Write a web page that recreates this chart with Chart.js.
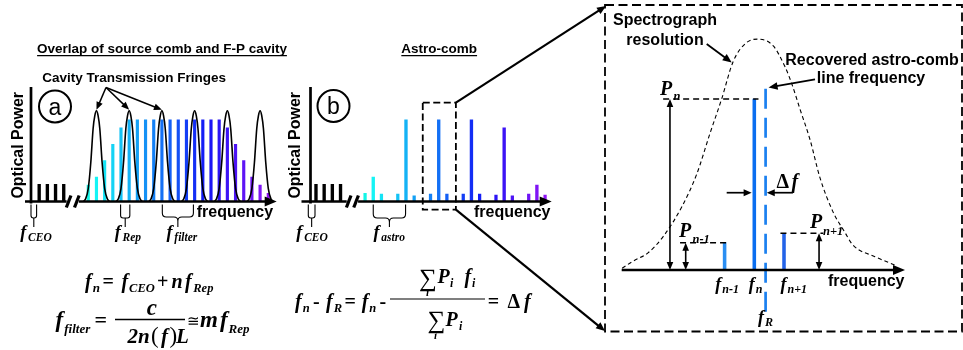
<!DOCTYPE html>
<html><head><meta charset="utf-8"><title>Astro-comb</title>
<script src="https://cdn.jsdelivr.net/npm/chart.js@4.4.1/dist/chart.umd.min.js"></script>
<style>
html,body{margin:0;padding:0;background:#fff;}
#wrap{position:relative;width:963px;height:350px;overflow:hidden;background:#fff}
#wrap canvas{position:absolute;left:0;top:0}
</style></head><body>
<div id="wrap">
<canvas id="chartA" width="963" height="350"></canvas>
<canvas id="chartB" width="963" height="350"></canvas>
<canvas id="chartC" width="963" height="350"></canvas>
</div>
<script>
// ================= DATA =================
// (a) source comb: line index and relative optical power
const combIndex = [0,1,2,3,4,5,6,7,8,9,10,11,12,13,14,15,16,17,18,19,20,21,22];
const combPower = [0.20,0.30,0.50,0.70,0.90,1.00,1.00,1.00,1.00,1.00,1.00,1.00,1.00,1.00,1.00,1.00,1.00,0.90,0.70,0.50,0.30,0.20,0.10];
// low-frequency comb teeth left of the axis break
const offsetIndex = [-6,-5,-4,-3];
const offsetPower = [0.21,0.21,0.21,0.21];
// Fabry-Perot transmission fringes (centre index) and one fringe profile
const fringeCentres = [1,5,9,13,17,21];
const fringeOffsets = [-1.6,-1.34,-1.0,-0.69,-0.41,-0.2,0,0.2,0.41,0.69,1.0,1.34,1.6];
const fringeHeights = [0,0.03,0.16,0.48,0.89,1.05,1.11,1.05,0.89,0.48,0.16,0.03,0];
// (b) astro-comb: transmitted lines and suppressed neighbours
const astroIndex = [1,5,9,13,17,21];
const astroPower = [0.30,1.00,1.00,1.00,0.90,0.20];
const sideIndex = [0,2,4,6,8,10,12,14,16,18,20,22];
const sidePower = [0.10,0.09,0.09,0.07,0.09,0.09,0.09,0.09,0.08,0.07,0.09,0.08];
// (c) zoom: lines f_{n-1}, f_n, f_{n+1} and spectrograph profile
const lineLabels = ['n-1','n','n+1'];
const lineFreq = [-1,0,1];
const linePower = [0.16,1.00,0.215];
const recoveredFreq = 0.38;
const psfFreq  = [-4.45,-4.1,-3.58,-3.07,-2.44,-1.94,-1.49,-1.10,-0.71,-0.26,0.12,0.64,1.03,1.26,1.54,1.88,2.21,2.65,3.05,3.32,4.06,4.79];
const psfPower = [0.01,0.05,0.10,0.195,0.37,0.56,0.80,1.00,1.22,1.33,1.35,1.31,1.19,1.09,0.94,0.76,0.54,0.34,0.22,0.146,0.078,0.025];

// ================= STYLE HELPERS =================
const SANS='"Liberation Sans", Arial, Helvetica, sans-serif';
const SERIF='"Liberation Serif", "Times New Roman", Times, serif';
const bi=p=>`italic bold ${p}px ${SERIF}`;
const bs=p=>`bold ${p}px ${SANS}`;
const br=p=>`bold ${p}px ${SERIF}`;
const rr=p=>`${p}px ${SERIF}`;
const combColor=i=>`hsl(${176+4.4*i},92%,52%)`;

function seg(c,x1,y1,x2,y2,w,col,dash){c.save();c.beginPath();c.lineWidth=w;c.strokeStyle=col||'#000';c.setLineDash(dash||[]);c.moveTo(x1,y1);c.lineTo(x2,y2);c.stroke();c.restore();}
function head(c,x,y,a,len,hw){c.save();c.translate(x,y);c.rotate(a);c.beginPath();c.moveTo(0,0);c.lineTo(-len,-hw);c.lineTo(-len,hw);c.closePath();c.fillStyle='#000';c.fill();c.restore();}
function arrow(c,x1,y1,x2,y2,w,len,hw,both){const a=Math.atan2(y2-y1,x2-x1),dx=Math.cos(a)*len*0.7,dy=Math.sin(a)*len*0.7;seg(c,both?x1+dx:x1,both?y1+dy:y1,x2-dx,y2-dy,w);head(c,x2,y2,a,len,hw);if(both)head(c,x1,y1,a+Math.PI,len,hw);}
function txt(c,s,x,y,font,align){c.save();c.font=font;c.fillStyle='#000';c.textAlign=align||'left';c.textBaseline='alphabetic';c.fillText(s,x,y);c.restore();}
function under(c,s,cx,y,font){c.save();c.font=font;const w=c.measureText(s).width;c.restore();txt(c,s,cx,y,font,'center');seg(c,cx-w/2,y+3.2,cx+w/2,y+3.2,1.3);}
function vtxt(c,s,x,y,font){c.save();c.translate(x,y);c.rotate(-Math.PI/2);c.font=font;c.textAlign='center';c.textBaseline='middle';c.fillStyle='#000';c.fillText(s,0,0);c.restore();}
function hAxis(c,x1,x2,y){seg(c,x1,y,x2-8,y,2.7);head(c,x2,y,0,12,5);}
function breakMark(c,xa,xb,y){c.save();c.fillStyle='#fff';c.fillRect(xa-2,y-3,xb-xa+4,6);c.restore();[xa,xb].forEach(x=>seg(c,x-2.3,y+6,x+2.3,y-6,3.2));}
function circ(c,x,y,r,s){c.save();c.beginPath();c.arc(x,y,r,0,Math.PI*2);c.lineWidth=2;c.strokeStyle='#000';c.stroke();c.restore();txt(c,s,x,y+8,`23px ${SANS}`,'center');}
function uBracket(c,xl,xr,yt,yb,ys){const r=2.5,xm=(xl+xr)/2;c.save();c.beginPath();c.lineWidth=1.1;c.strokeStyle='#000';c.moveTo(xl,yt);c.lineTo(xl,yb-r);c.quadraticCurveTo(xl,yb,xl+r,yb);c.lineTo(xr-r,yb);c.quadraticCurveTo(xr,yb,xr,yb-r);c.lineTo(xr,yt);c.moveTo(xm,yb);c.lineTo(xm,ys);c.stroke();c.restore();}
function brace(c,xl,xr,yt,yb,ys){const r=4,xm=(xl+xr)/2;c.save();c.beginPath();c.lineWidth=1.1;c.strokeStyle='#000';c.moveTo(xl,yt);c.lineTo(xl,yb-r);c.quadraticCurveTo(xl,yb,xl+r,yb);c.lineTo(xm-r,yb);c.quadraticCurveTo(xm,yb,xm,yb+r);c.quadraticCurveTo(xm,yb,xm+r,yb);c.lineTo(xr-r,yb);c.quadraticCurveTo(xr,yb,xr,yb-r);c.lineTo(xr,yt);c.moveTo(xm,yb+r);c.lineTo(xm,ys);c.stroke();c.restore();}
// italic f (ink-left x) followed by subscript
function fsub(c,x,y,sub,fp,sp,dy,gap){c.save();c.fillStyle='#000';c.font=bi(fp);const fx=x+fp*0.17;c.fillText('f',fx,y);const w=c.measureText('f').width;c.font=bi(sp);c.fillText(sub,fx+w+(gap==null?fp*0.1:gap),y+dy);c.restore();}
function Psub(c,x,y,sub,fp,sp,dx,dy){c.save();c.fillStyle='#000';c.font=bi(fp);c.fillText('P',x,y);c.font=bi(sp);c.fillText(sub,x+dx,y+dy);c.restore();}

function pad(l,t,r,b){return {left:l,top:t,right:963-r,bottom:350-b};}
function opts(p,xmin,xmax,ymin,ymax){return {responsive:false,maintainAspectRatio:false,animation:false,devicePixelRatio:1,events:[],
  layout:{padding:p},plugins:{legend:{display:false},tooltip:{enabled:false}},
  scales:{x:{type:'linear',min:xmin,max:xmax,offset:false,display:false},y:{type:'linear',min:ymin,max:ymax,display:false}}};}
const pts=(xs,ys)=>xs.map((x,i)=>({x,y:ys[i]}));
const lineDS=(data,extra)=>Object.assign({type:'line',data,borderColor:'#000',borderWidth:1.6,pointRadius:0,fill:false,cubicInterpolationMode:'monotone',order:0,clip:false},extra||{});
const barDS=(data,colors,thick,extra)=>Object.assign({type:'bar',data,backgroundColor:colors,barThickness:thick,grouped:false,borderWidth:0,order:1},extra||{});

// ================= PANEL A =================
function drawA(chart){
  const c=chart.ctx,A=chart.chartArea,X=v=>chart.scales.x.getPixelForValue(v),Y=v=>chart.scales.y.getPixelForValue(v),y0=Y(0);
  seg(c,A.left,A.top,A.left,y0+2,2.7);
  hAxis(c,A.left-6,A.right,y0);
  breakMark(c,X(-2.4),X(-1.4),y0);
  under(c,'Overlap of source comb and F-P cavity',162,52.5,bs(13.5));
  txt(c,'Cavity Transmission Fringes',134.2,81.5,bs(13.5),'center');
  const peak=Math.max(...fringeHeights);
  [0,1,2].forEach(k=>arrow(c,106,87.5,X(fringeCentres[k]),Y(peak)-1,1.5,8,3.3));
  circ(c,A.left+24,y0-95,16,'a');
  vtxt(c,'Optical Power',A.left-12.5,(A.top+y0)/2+1,bs(16));
  txt(c,'frequency',196.7,216.5,bs(16));
  // brackets + labels
  const yt=y0+3,yb=y0+16.5,ys=y0+25.5;
  uBracket(c,A.left,A.left+5.6,yt,yb,ys); fsub(c,A.left+2.8-16.6,238,'CEO',18,11.5,2.5);
  const rl=X(3.95),rrx=X(5.08); uBracket(c,rl,rrx,yt,yb,ys); fsub(c,(rl+rrx)/2-13.6,238,'Rep',18,11.5,2.5);
  const fl=X(9.05),fr=X(12.85); brace(c,fl,fr,yt,yb-1,ys); fsub(c,(fl+fr)/2-14.4,238,'filter',18,11.5,2.5);
  // equations
  fsub(c,81.7,288,'n',20,13,4,1);
  txt(c,'=',102.5,288,br(20)); fsub(c,118,288,'CEO',20,12.5,4,1);
  txt(c,'+',157,288,br(20)); txt(c,'n',171.5,288,bi(20)); fsub(c,181.7,288,'Rep',20,12.5,4,1.5);
  fsub(c,51.7,327,'filter',23,13,6,1);
  txt(c,'=',94.5,327,br(22));
  seg(c,115,319.5,185,319.5,1.3);
  txt(c,'c',146.7,315,bi(23));
  txt(c,'2n',127.5,342.5,bi(21)); txt(c,'(',151,342.5,rr(23)); fsub(c,157.5,342.5,'',21,10,0); txt(c,')',169.5,342.5,rr(23)); txt(c,'L',176,342.5,bi(21));
  txt(c,'≅',187,326,rr(15)); txt(c,'m',200,327,bi(23)); fsub(c,216,327,'Rep',23,13,6,1);
}

// ================= PANEL B =================
function drawB(chart){
  const c=chart.ctx,A=chart.chartArea,X=v=>chart.scales.x.getPixelForValue(v),Y=v=>chart.scales.y.getPixelForValue(v),y0=Y(0);
  seg(c,A.left,A.top,A.left,y0+2,2.7);
  hAxis(c,A.left-9,A.right,y0);
  breakMark(c,X(-2.0),X(-1.1),y0);
  under(c,'Astro-comb',439.2,52.5,bs(13.5));
  circ(c,A.left+23,y0-95.5,16,'b');
  vtxt(c,'Optical Power',A.left-14.5,(A.top+y0)/2+1,bs(16));
  txt(c,'frequency',474,216.5,bs(16));
  const yt=y0+3,yb=y0+16.5,ys=y0+25.5;
  uBracket(c,A.left-2.2,A.left+4.5,yt,yb,ys); fsub(c,A.left+1.2-18.4,238,'CEO',18,11.5,2.5);
  const al=X(1),ar=X(4.95); brace(c,al,ar,yt,yb,ys); fsub(c,(al+ar)/2-19,238,'astro',18,11.5,2.5);
  // zoom box
  c.save();c.setLineDash([7,3.5]);c.lineWidth=1.8;c.strokeStyle='#000';
  c.strokeRect(X(7.05),Y(1.21),X(11.1)-X(7.05),Y(-0.1)-Y(1.21));c.restore();
  // equation
  const yb2=308;
  fsub(c,291.7,yb2,'n',20,12.5,4,1); txt(c,'-',313,yb2,br(20));
  fsub(c,322.7,yb2,'R',20,12.5,4,1); txt(c,'=',344.5,yb2,br(20));
  fsub(c,358.3,yb2,'n',20,12.5,4,1); txt(c,'-',379.5,yb2,br(20));
  seg(c,390,299,485,299,1.2);
  txt(c,'∑',419,286,rr(25)); txt(c,'i',426,296,bi(11));
  Psub(c,437.5,283.3,'i',20,12,12.5,3.5); fsub(c,461,283.3,'i',20,12,3.5,1);
  txt(c,'∑',427.5,327.5,rr(25)); txt(c,'i',434,339,bi(11));
  Psub(c,445.5,326,'i',20,12,13.5,3.5);
  txt(c,'=',487.8,yb2,br(20)); txt(c,'Δ',507.5,yb2,br(20)); fsub(c,520.7,yb2,'',20,10,0);
}

// ================= PANEL C =================
let chartB;
function drawC(chart){
  const c=chart.ctx,A=chart.chartArea,X=v=>chart.scales.x.getPixelForValue(v),Y=v=>chart.scales.y.getPixelForValue(v),y0=Y(0);
  c.save();c.setLineDash([9,4.5]);c.lineWidth=1.8;c.strokeStyle='#000';c.strokeRect(605,5,962-605,331.5-5);c.restore();
  hAxis(c,A.left,A.right,y0);
  const [Pm,Pn,Pp]=linePower;
  seg(c,X(-3.07),Y(Pn),X(lineFreq[1]+0.14),Y(Pn),1.5,'#000',[6,4]);
  seg(c,X(-2.5),Y(Pm),X(lineFreq[0]+0.14),Y(Pm),1.5,'#000',[6,4]);
  seg(c,X(lineFreq[2]-0.12),Y(Pp),X(2.32),Y(Pp),1.5,'#000',[6,4]);
  arrow(c,X(-2.84),Y(Pn),X(-2.84),y0,1.6,8,3.3,true);
  arrow(c,X(-2.31),Y(Pm),X(-2.31),y0,1.6,8,3.3,true);
  arrow(c,X(2.18),Y(Pp),X(2.18),y0,1.6,8,3.3,true);
  txt(c,'Δ',776.5,187.5,br(20)); fsub(c,788,187.5,'',20,10,0);
  const yd=Y(0.452);
  arrow(c,X(-0.93),yd,X(lineFreq[1]-0.09),yd,1.7,8,3.5);
  arrow(c,X(1.3),yd,X(recoveredFreq+0.04),yd,1.7,8,3.5);
  Psub(c,660,95,'n',20,12.5,13.5,4.5);
  Psub(c,679,236.7,'n-1',20,12.5,13.5,6);
  Psub(c,810,228.3,'n+1',20,12.5,13,6.5);
  // line labels
  const off=[-12.3,-8.6,-6.6];
  lineFreq.forEach((f,i)=>fsub(c,X(f)+off[i],290,lineLabels[i],18,12,2.5,1));
  fsub(c,X(recoveredFreq)-10.7,323,'R',18,12,3,1);
  txt(c,'frequency',828,285.7,bs(16));
  txt(c,'Spectrograph',665,25,bs(16),'center');
  txt(c,'resolution',665,45,bs(16),'center');
  arrow(c,706.7,44,731.7,62.5,1.8,9,3.8);
  txt(c,'Recovered astro-comb',872,64.5,bs(16),'center');
  txt(c,'line frequency',871,83.3,bs(16),'center');
  arrow(c,815,79.3,X(recoveredFreq)+3,87.5,1.8,9,3.8);
  // connectors from the zoom box in panel (b)
  if(chartB){const bx=chartB.scales.x,by=chartB.scales.y;
    arrow(c,bx.getPixelForValue(11.1),by.getPixelForValue(1.21),606,6,2.2,9,3.8);
    arrow(c,bx.getPixelForValue(11.1),by.getPixelForValue(-0.1),605,331,2.2,9,3.8);}
}

// ================= CHARTS =================
const chartA=new Chart(document.getElementById('chartA'),{type:'bar',
  data:{datasets:[
    ...fringeCentres.map(fc=>lineDS(pts(fringeOffsets.map(o=>fc+o),fringeHeights))),
    barDS(pts(combIndex,combPower),combIndex.map(combColor),2.5),
    barDS(pts(offsetIndex,offsetPower),'#000',2.7)
  ]},
  options:opts(pad(31,87,276.7,201.5),-7,23.03,0,1.401),
  plugins:[{id:'decoA',afterDatasetsDraw:drawA}]});

chartB=new Chart(document.getElementById('chartB'),{type:'bar',
  data:{datasets:[
    barDS(pts(astroIndex,astroPower),astroIndex.map(combColor),2.7),
    barDS(pts(sideIndex,sidePower),sideIndex.map(combColor),2.6),
    barDS(pts(offsetIndex,offsetPower),'#000',2.7)
  ]},
  options:opts(pad(310.5,87,551.7,201.5),-6.67,22.81,0,1.401),
  plugins:[{id:'decoB',afterDatasetsDraw:drawB}]});

const chartC=new Chart(document.getElementById('chartC'),{type:'bar',
  data:{datasets:[
    lineDS(pts(psfFreq,psfPower),{borderWidth:1.1,borderDash:[4,3],order:2}),
    barDS(pts(lineFreq,linePower),['#2a8ef2','#0a6ef0','#2363e8'],2.9),
    lineDS([{x:recoveredFreq,y:1.06},{x:recoveredFreq,y:-0.273}],{borderColor:'#1b80f0',borderWidth:2.7,borderDash:[20,9],cubicInterpolationMode:'default',tension:0})
  ]},
  options:opts(pad(621.7,30,905,270),-4.465,5.074,0,1.4035),
  plugins:[{id:'decoC',afterDatasetsDraw:drawC}]});
</script>
</body></html>
